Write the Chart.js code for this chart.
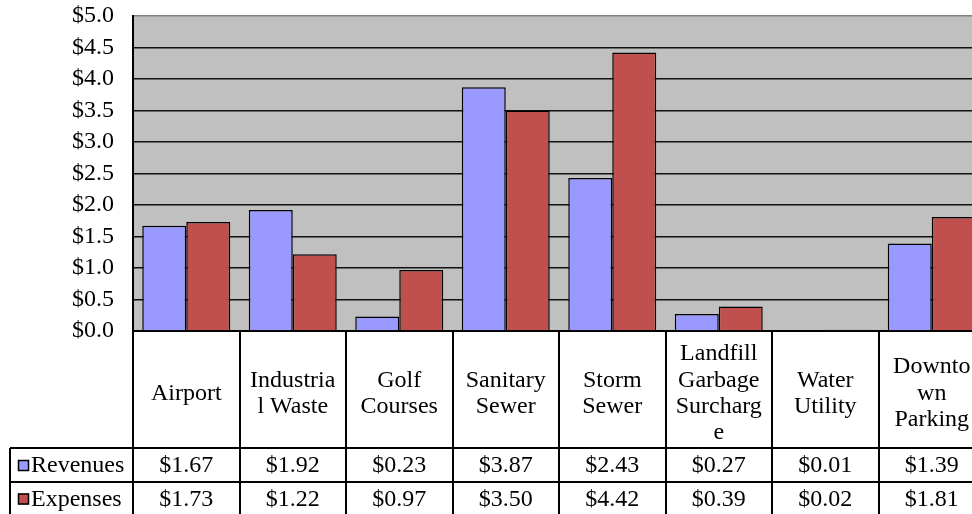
<!DOCTYPE html>
<html>
<head>
<meta charset="utf-8">
<script src="https://cdn.jsdelivr.net/npm/chart.js@4"></script>
<style>
  html, body { margin: 0; padding: 0; background: #fff; overflow: hidden; }
  #wrap { width: 972px; height: 514px; overflow: hidden; }
</style>
</head>
<body>
<div id="wrap"><canvas id="barChart" width="990" height="514"></canvas></div>
<script>
const ctx = document.getElementById('barChart').getContext('2d');

// data
const categories = [
  'Airport',
  ['Industria', 'l Waste'],
  ['Golf', 'Courses'],
  ['Sanitary', 'Sewer'],
  ['Storm', 'Sewer'],
  ['Landfill', 'Garbage', 'Surcharg', 'e'],
  ['Water', 'Utility'],
  ['Downto', 'wn', 'Parking']
]
const revenues = [1.67, 1.92, 0.23, 3.87, 2.43, 0.27, 0.01, 1.39]
const expenses = [1.73, 1.22, 0.97, 3.50, 4.42, 0.39, 0.02, 1.81]
const seriesNames = ['Revenues', 'Expenses']
const seriesColors = ['#9999FF', '#C0504D']

const serif = '"Liberation Serif", "Times New Roman", serif'

// grey plot area
const plotBg = {
  id: 'plotBg',
  beforeDraw(chart) {
    const a = chart.chartArea
    const c = chart.ctx
    c.save()
    c.fillStyle = '#C0C0C0'
    c.fillRect(a.left, a.top, a.right - a.left, a.bottom - a.top)
    c.restore()
  }
}

// data table under the chart
const dataTable = {
  id: 'dataTable',
  afterDraw(chart) {
    const c = chart.ctx
    const x = chart.scales.x
    const a = chart.chartArea
    const n = categories.length
    const w = (x.right - x.left) / n
    const rowTops = [448, 482, 515]
    const tableLeft = 10
    c.save()
    c.strokeStyle = '#000'
    c.lineWidth = 2
    c.beginPath()
    for (let i = 0; i <= n; i++) {
      const px = Math.round(x.left + i * w)
      c.moveTo(px, a.bottom)
      c.lineTo(px, 514)
    }
    rowTops.forEach(y => {
      c.moveTo(tableLeft, y)
      c.lineTo(x.right, y)
    })
    c.moveTo(tableLeft, rowTops[0])
    c.lineTo(tableLeft, 514)
    c.stroke()

    c.font = '24px ' + serif
    c.fillStyle = '#000'
    c.textBaseline = 'middle'
    const rows = [revenues, expenses]
    rows.forEach((vals, r) => {
      const yMid = (rowTops[r] + rowTops[r + 1]) / 2 + 1
      // legend key
      c.fillStyle = seriesColors[r]
      c.fillRect(18, yMid - 6, 11, 11)
      c.strokeStyle = '#000'
      c.lineWidth = 1.5
      c.strokeRect(18.5, yMid - 5.5, 10, 10)
      c.fillStyle = '#000'
      c.textAlign = 'left'
      c.fillText(seriesNames[r], 31, yMid)
      c.textAlign = 'center'
      vals.forEach((v, i) => {
        c.fillText('$' + v.toFixed(2), x.getPixelForValue(i), yMid)
      })
    })
    c.restore()
  }
}

const data = {
  labels: categories,
  datasets: [{
    label: seriesNames[0],
    data: revenues,
    backgroundColor: seriesColors[0],
    borderColor: '#000',
    borderWidth: 1.5,
  }, {
    label: seriesNames[1],
    data: expenses,
    backgroundColor: seriesColors[1],
    borderColor: '#000',
    borderWidth: 1.5,
  }]
}

const config = {
  type: 'bar',
  data: data,
  plugins: [plotBg, dataTable],
  options: {
    responsive: false,
    animation: false,
    devicePixelRatio: 1,
    categoryPercentage: 0.826,
    barPercentage: 1,
    layout: { padding: { top: 16, right: 5, left: 0, bottom: 0 } },
    plugins: {
      legend: { display: false },
      tooltip: { enabled: false },
    },
    scales: {
      x: {
        grid: { display: false, drawTicks: false },
        border: { color: '#000', width: 2 },
        ticks: {
          color: '#000',
          font: { family: serif, size: 24, lineHeight: 1.1 },
          padding: 23,
          maxRotation: 0,
          autoSkip: false,
          crossAlign: 'center',
        },
        afterFit(scale) {
          scale.height = 183
          scale.paddingLeft = 0
          scale.paddingRight = 0
        },
      },
      y: {
        min: 0,
        max: 5,
        grid: {
          drawTicks: false,
          lineWidth: 1.5,
          color: c => c.tick && c.tick.value === 5 ? '#808080' : '#111',
        },
        border: { color: '#000', width: 2 },
        ticks: {
          stepSize: 0.5,
          autoSkip: false,
          color: '#000',
          padding: 19,
          font: { family: serif, size: 24 },
          callback: v => '$' + v.toFixed(1),
        },
        afterFit(scale) {
          scale.width = 133
          scale.paddingTop = 0
          scale.paddingBottom = 0
        },
      }
    }
  }
}

const myChart = new Chart(ctx, config)
</script>
</body>
</html>
